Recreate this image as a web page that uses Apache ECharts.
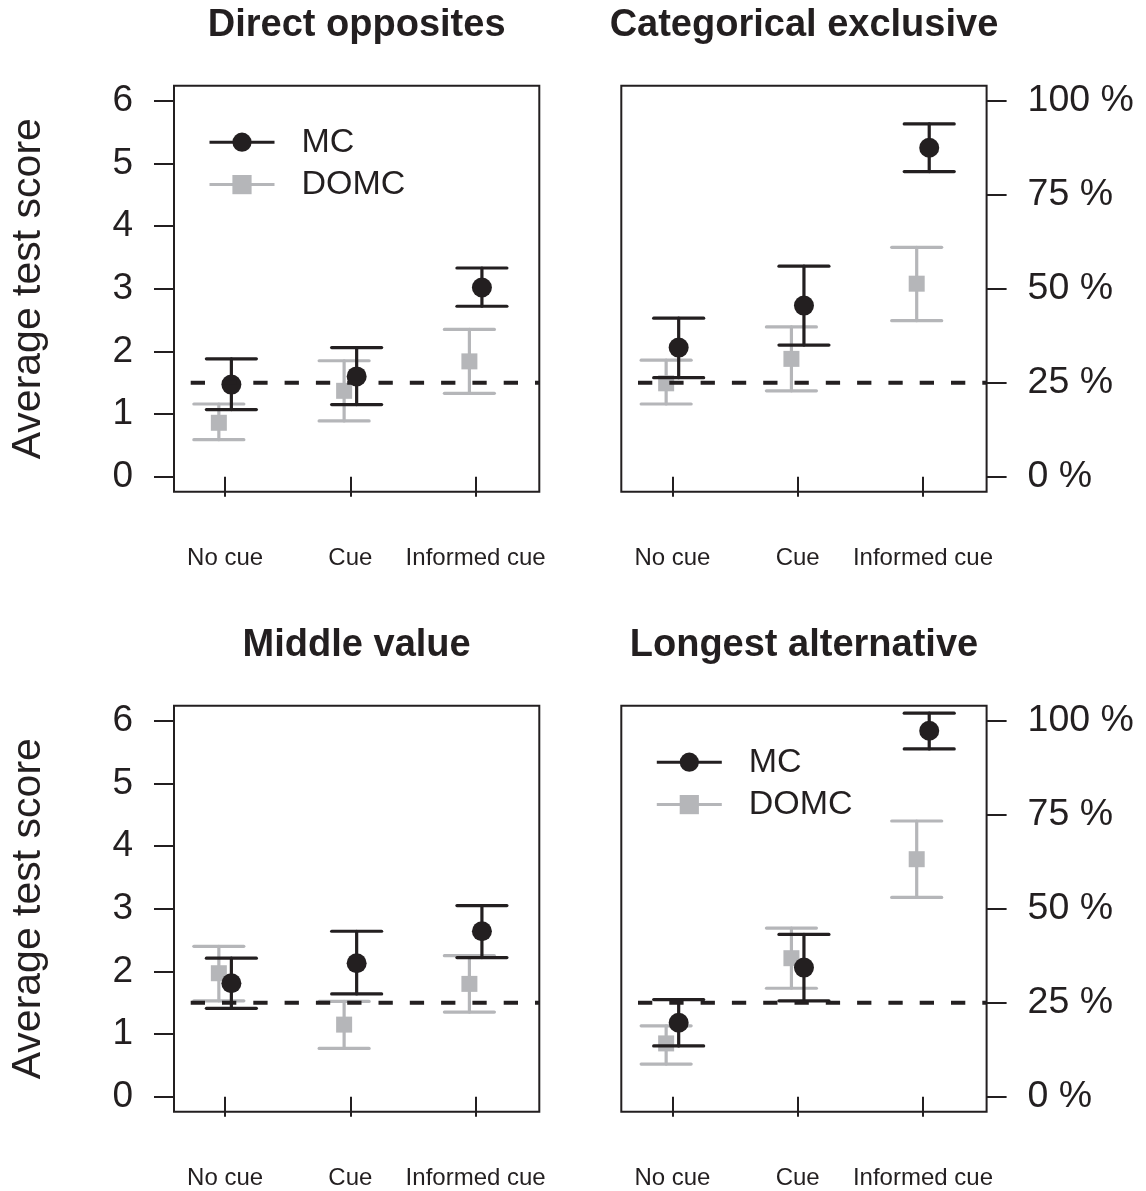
<!DOCTYPE html>
<html>
<head>
<meta charset="utf-8">
<script src="https://cdn.jsdelivr.net/npm/echarts@6/dist/echarts.min.js"></script>
<style>
html,body{margin:0;padding:0;background:#fff;}
#chart{width:1146px;height:1191px;}
</style>
</head>
<body>
<div id="chart"></div>
<script>
// ---------- data ----------
const categories = ['No cue', 'Cue', 'Informed cue'];
const panelTitles = ['Direct opposites', 'Categorical exclusive', 'Middle value', 'Longest alternative'];
const seriesNames = ['MC', 'DOMC'];
const scoreTicks = [0, 1, 2, 3, 4, 5, 6];
const pctTicks = [0, 25, 50, 75, 100];
const maxScore = 6;
const chanceLevel = 1.5; // 25 %

// Direct opposites
const doMcMean   = [1.47, 1.60, 3.02];
const doMcLow    = [1.07, 1.15, 2.72];
const doMcHigh   = [1.88, 2.06, 3.33];
const doDomcMean = [0.86, 1.37, 1.84];
const doDomcLow  = [0.59, 0.89, 1.33];
const doDomcHigh = [1.16, 1.85, 2.35];

// Categorical exclusive
const ceMcMean   = [2.06, 2.73, 5.25];
const ceMcLow    = [1.58, 2.10, 4.87];
const ceMcHigh   = [2.53, 3.36, 5.63];
const ceDomcMean = [1.49, 1.88, 3.08];
const ceDomcLow  = [1.16, 1.37, 2.49];
const ceDomcHigh = [1.86, 2.39, 3.66];

// Middle value
const mvMcMean   = [1.81, 2.13, 2.64];
const mvMcLow    = [1.41, 1.64, 2.22];
const mvMcHigh   = [2.21, 2.64, 3.05];
const mvDomcMean = [1.97, 1.15, 1.80];
const mvDomcLow  = [1.53, 0.77, 1.35];
const mvDomcHigh = [2.40, 1.52, 2.25];

// Longest alternative
const laMcMean   = [1.18, 2.06, 5.84];
const laMcLow    = [0.81, 1.53, 5.55];
const laMcHigh   = [1.55, 2.59, 6.12];
const laDomcMean = [0.85, 2.21, 3.79];
const laDomcLow  = [0.52, 1.73, 3.18];
const laDomcHigh = [1.13, 2.69, 4.40];

// ---------- styling / layout ----------
const BLACK = '#231f20';
const GRAY = '#b5b6b9';
const FONT = '"Liberation Sans", Arial, Helvetica, sans-serif';
const X_MIN = 0.592, X_MAX = 3.508;
const Y_MIN = -0.24, Y_MAX = 6.24;
const MC_OFF = 0.05, DOMC_OFF = -0.05;
const GW = 365.3, GH = 406;
const gridPos = [
  {left: 174, top: 85.7}, {left: 621.3, top: 85.7},
  {left: 174, top: 705.7}, {left: 621.3, top: 705.7}
];
const panels = [
  {mc: [doMcMean, doMcLow, doMcHigh], domc: [doDomcMean, doDomcLow, doDomcHigh], side: 'left', legend: true},
  {mc: [ceMcMean, ceMcLow, ceMcHigh], domc: [ceDomcMean, ceDomcLow, ceDomcHigh], side: 'right', legend: false},
  {mc: [mvMcMean, mvMcLow, mvMcHigh], domc: [mvDomcMean, mvDomcLow, mvDomcHigh], side: 'left', legend: false},
  {mc: [laMcMean, laMcLow, laMcHigh], domc: [laDomcMean, laDomcLow, laDomcHigh], side: 'right', legend: true}
];

function errorBars(name, idx, low, high, off, color, z) {
  return {
    type: 'custom', name: name, xAxisIndex: idx, yAxisIndex: idx, z: z, silent: true,
    data: low.map((l, k) => [k + 1 + off, l, high[k]]),
    encode: {x: 0, y: [1, 2]},
    renderItem: function (params, api) {
      const x = api.value(0);
      const pLo = api.coord([x, api.value(1)]);
      const pHi = api.coord([x, api.value(2)]);
      const hw = 25;
      const st = {stroke: color, lineWidth: 3.2, lineCap: 'round'};
      return {
        type: 'group', children: [
          {type: 'line', shape: {x1: pLo[0], y1: pLo[1], x2: pHi[0], y2: pHi[1]}, style: st},
          {type: 'line', shape: {x1: pLo[0] - hw, y1: pLo[1], x2: pLo[0] + hw, y2: pLo[1]}, style: st},
          {type: 'line', shape: {x1: pHi[0] - hw, y1: pHi[1], x2: pHi[0] + hw, y2: pHi[1]}, style: st}
        ]
      };
    }
  };
}

function points(name, idx, mean, off, color, symbol, size, z) {
  return {
    type: 'line', name: name, xAxisIndex: idx, yAxisIndex: idx, z: z, silent: true,
    data: mean.map((m, k) => [k + 1 + off, m]),
    symbol: symbol, symbolSize: size, showSymbol: true,
    itemStyle: {color: color, opacity: 1},
    lineStyle: {color: color, width: 3, opacity: 0}
  };
}

const grids = [], xAxes = [], yAxes = [], series = [], titles = [], legends = [];
panels.forEach((p, i) => {
  const g = gridPos[i];
  grids.push({left: g.left, top: g.top, width: GW, height: GH, show: true,
    borderColor: BLACK, borderWidth: 2, backgroundColor: 'transparent', containLabel: false});
  xAxes.push({
    gridIndex: i, type: 'value', min: X_MIN, max: X_MAX, position: 'bottom',
    axisLine: {show: false}, splitLine: {show: false},
    axisTick: {show: true, length: 20, customValues: [1, 2, 3], lineStyle: {color: BLACK, width: 2}},
    axisLabel: {show: true, customValues: [1, 2, 3], margin: 55, fontSize: 24, color: BLACK, fontFamily: FONT,
      formatter: v => categories[Math.round(v) - 1]}
  });
  if (p.side === 'left') {
    yAxes.push({
      gridIndex: i, type: 'value', min: Y_MIN, max: Y_MAX, position: 'left',
      axisLine: {show: false}, splitLine: {show: false},
      axisTick: {show: true, length: 20, customValues: scoreTicks, lineStyle: {color: BLACK, width: 2}},
      axisLabel: {customValues: scoreTicks, fontSize: 37, margin: 41, color: BLACK, fontFamily: FONT},
      name: 'Average test score', nameLocation: 'middle', nameRotate: 90, nameGap: 125,
      nameTextStyle: {fontSize: 41, color: BLACK, fontFamily: FONT}
    });
  } else {
    const pv = pctTicks.map(t => t / 100 * maxScore);
    yAxes.push({
      gridIndex: i, type: 'value', min: Y_MIN, max: Y_MAX, position: 'right',
      axisLine: {show: false}, splitLine: {show: false},
      axisTick: {show: true, length: 20, customValues: pv, lineStyle: {color: BLACK, width: 2}},
      axisLabel: {customValues: pv, fontSize: 37.5, margin: 41, color: BLACK, fontFamily: FONT,
        formatter: v => Math.round(v / maxScore * 100) + ' %'}
    });
  }
  titles.push({
    text: panelTitles[i], left: g.left + GW / 2, top: (i < 2 ? 25.5 : 645.5), textAlign: 'center',
    textVerticalAlign: 'middle', padding: 0,
    textStyle: {fontSize: 38, fontWeight: 'bold', color: BLACK, fontFamily: FONT}
  });
  series.push(points('MC', i, p.mc[0], MC_OFF, BLACK, 'circle', 20, 5));
  series.push(points('DOMC', i, p.domc[0], DOMC_OFF, GRAY, 'rect', 16, 3));
  series.push(errorBars('DOMC bars', i, p.domc[1], p.domc[2], DOMC_OFF, GRAY, 2));
  series.push(errorBars('MC bars', i, p.mc[1], p.mc[2], MC_OFF, BLACK, 4));
  series.push({
    type: 'line', name: 'chance', xAxisIndex: i, yAxisIndex: i, z: 6, silent: true,
    data: [[X_MIN, chanceLevel], [X_MAX, chanceLevel]], showSymbol: false, symbol: 'none',
    lineStyle: {color: BLACK, width: 4, type: [14.3, 17], dashOffset: 14.6, cap: 'butt'}
  });
  if (p.legend) {
    legends.push({
      data: seriesNames, orient: 'vertical', left: g.left + 34, top: g.top + 39.5,
      itemWidth: 65, itemHeight: 24, itemGap: 8.4, padding: 0, selectedMode: false,
      textStyle: {fontSize: 34, color: BLACK, fontFamily: FONT, padding: [0, 0, 0, 22], lineHeight: 24},
      lineStyle: {width: 3, opacity: 1}
    });
  }
});

const chart = echarts.init(document.getElementById('chart'), null, {renderer: 'canvas'});
chart.setOption({
  backgroundColor: '#ffffff',
  animation: false,
  title: titles,
  legend: legends,
  grid: grids,
  xAxis: xAxes,
  yAxis: yAxes,
  series: series
});
</script>
</body>
</html>
